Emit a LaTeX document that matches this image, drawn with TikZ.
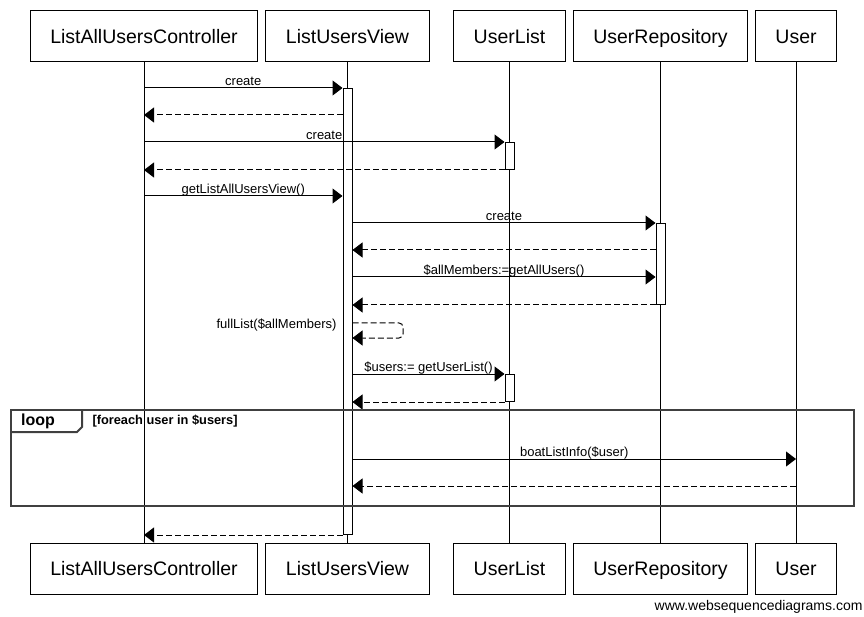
\documentclass[tikz,border=0pt]{standalone}
\usepackage{fontspec}
\setmainfont{Liberation Sans}
\usetikzlibrary{arrows.meta}

\begin{document}
\begin{tikzpicture}[x=1pt,y=-1pt,line width=1pt]
	\tikzstyle{head}=[draw,fill=white,inner xsep=20pt,inner ysep=0pt,text height=16pt,text depth=2pt,minimum height=51pt,font=\fontsize{19.5}{22}\selectfont];
	\tikzstyle{act}=[draw,fill=white,minimum width=9pt,inner sep=0pt,anchor=north];
	\tikzstyle{msg}=[-{Triangle[length=10pt,width=15pt]}];
	\tikzstyle{ret}=[msg,dash pattern=on 6pt off 3pt];
	\tikzstyle{lbl}=[font=\fontsize{13}{15}\selectfont,inner sep=1pt,text height=9.5pt,text depth=1pt,above];
	\tikzstyle{frame}=[line width=2pt,draw=black!75];

	\useasboundingbox (0,0) rectangle (864,617);
	\node[head] (ctrlT) at (144,36.5)   {ListAllUsersController};
	\node[head] (viewT) at (347.5,36.5) {ListUsersView};
	\node[head] (listT) at (509.5,36.5) {UserList};
	\node[head] (repoT) at (660.5,36.5) {UserRepository};
	\node[head] (userT) at (796,36.5)   {User};
	\node[head] (ctrlB) at (144,568.5)   {ListAllUsersController};
	\node[head] (viewB) at (347.5,568.5) {ListUsersView};
	\node[head] (listB) at (509.5,568.5) {UserList};
	\node[head] (repoB) at (660.5,568.5) {UserRepository};
	\node[head] (userB) at (796,568.5)   {User};
	\draw (ctrlT) -- (ctrlB);
	\draw (viewT) -- (viewB);
	\draw (listT) -- (listB);
	\draw (repoT) -- (repoB);
	\draw (userT) -- (userB);

	\node[act,minimum height=446pt] (viewA)  at (viewT.south |- 0,88)  {};
	\node[act,minimum height=27pt]  (listA1) at (listT.south |- 0,142) {};
	\node[act,minimum height=81pt]  (repoA)  at (repoT.south |- 0,223) {};
	\node[act,minimum height=27pt]  (listA2) at (listT.south |- 0,374) {};

	\draw[msg] (ctrlT |- viewA.north) -- node[lbl] (m1) {create} (viewA.north west);
	\draw[ret] (viewA.west |- 0,115) -- (ctrlT |- 0,115);
	\draw[msg] (ctrlT |- listA1.north) -- node[lbl] (m3) {create} (listA1.north west);
	\draw[ret] (listA1.south west) -- (ctrlT |- listA1.south);
	\draw[msg] (ctrlT |- 0,196) -- node[lbl] (m5) {getListAllUsersView()} (viewA.west |- 0,196);
	\draw[msg] (viewA.east |- repoA.north) -- node[lbl] (m6) {create} (repoA.north west);
	\draw[ret] (repoA.west |- 0,250) -- (viewA.east |- 0,250);
	\draw[msg] (viewA.east |- 0,277) -- node[lbl] (m8) {\$allMembers:=getAllUsers()} (repoA.west |- 0,277);
	\draw[ret] (repoA.south west) -- (viewA.east |- repoA.south);
	\draw[ret,rounded corners=4pt] (viewA.east |- 0,323) -- (403,323) -- (403,338) -- (viewA.east |- 0,338);
	\node[lbl,anchor=east] (m10) at (338,324) {fullList(\$allMembers)};
	\draw[msg] (viewA.east |- listA2.north) -- node[lbl] (m11) {\$users:= getUserList()} (listA2.north west);
	\draw[ret] (listA2.south west) -- (viewA.east |- listA2.south);

	\draw[frame] (11,410) rectangle (854,506);
	\draw[frame] (11,432) -- (77,432) -- (82,427) -- (82,410);
	\node[font=\bfseries\fontsize{16}{18}\selectfont] (looptag) at (38,421) {loop};
	\node[font=\bfseries\fontsize{12.8}{14}\selectfont,anchor=west,inner sep=0pt] (guard) at (92,421) {[foreach user in \$users]};
	\draw[msg] (viewA.east |- 0,459) -- node[lbl] (m14) {boatListInfo(\$user)} (userT |- 0,459);
	\draw[ret] (userT |- 0,486) -- (viewA.east |- 0,486);
	\draw[ret] (viewA.south west) -- (ctrlT |- viewA.south);
	\node[anchor=east,font=\fontsize{14}{16}\selectfont,inner sep=0pt] (wsd) at (863,607) {www.websequencediagrams.com};
\end{tikzpicture}
\end{document}
